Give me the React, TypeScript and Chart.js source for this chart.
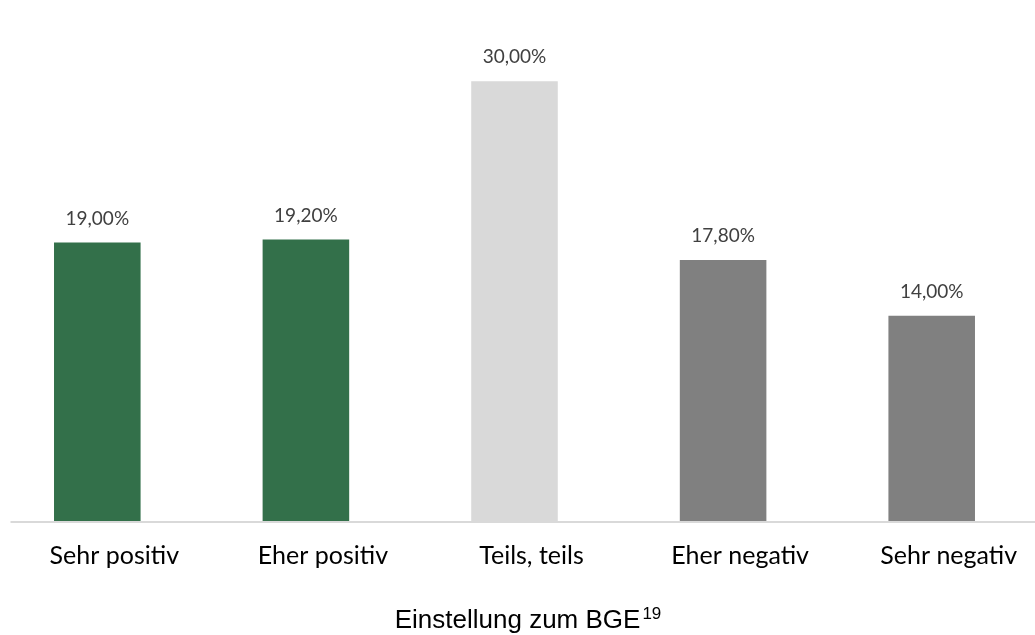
import React, { useEffect, useRef } from "react";
import { Chart, registerables } from "chart.js";

Chart.register(...registerables);

const categories = ["Sehr positiv", "Eher positiv", "Teils, teils", "Eher negativ", "Sehr negativ"];
const values = [19.0, 19.2, 30.0, 17.8, 14.0];
const barColors = ["#33704a", "#33704a", "#d9d9d9", "#808080", "#808080"];
const axisTitle = "Einstellung zum BGE";
const axisTitleNote = "19";

const valueLabelPlugin = {
  id: "valueLabels",
  afterDatasetsDraw(chart: any) {
    const ctx = chart.ctx;
    const meta = chart.getDatasetMeta(0);
    ctx.save();
    ctx.font = "19px Lato, 'Open Sans', sans-serif";
    ctx.fillStyle = "#404040";
    ctx.textAlign = "center";
    ctx.textBaseline = "middle";
    meta.data.forEach((bar: any, i: number) => {
      const v = values[i];
      const txt = v.toFixed(2).replace(".", ",") + "%";
      ctx.fillText(txt, bar.x, bar.y - 24);
    });
    ctx.restore();
  },
};

const baselinePlugin = {
  id: "baseline",
  afterDatasetsDraw(chart: any) {
    const ctx = chart.ctx;
    const y = chart.scales.y.getPixelForValue(0);
    ctx.save();
    ctx.strokeStyle = "#d9d9d9";
    ctx.lineWidth = 2;
    ctx.beginPath();
    ctx.moveTo(17.5, y + 1);
    ctx.lineTo(chart.width, y + 1);
    ctx.stroke();
    ctx.restore();
  },
};

const axisTitlePlugin = {
  id: "axisTitle",
  afterDraw(chart: any) {
    const ctx = chart.ctx;
    const mainFont = "26px 'Liberation Sans', Arial, sans-serif";
    const supFont = "17px 'Liberation Sans', Arial, sans-serif";
    ctx.save();
    ctx.fillStyle = "#000000";
    ctx.textBaseline = "alphabetic";
    ctx.textAlign = "left";
    ctx.font = mainFont;
    const w1 = ctx.measureText(axisTitle).width;
    ctx.font = supFont;
    const w2 = ctx.measureText(axisTitleNote).width;
    const total = w1 + 2 + w2;
    const cx = 527.5 + 7.5;
    const x0 = cx - total / 2;
    const baseY = 628;
    ctx.font = mainFont;
    ctx.fillText(axisTitle, x0, baseY);
    ctx.font = supFont;
    ctx.fillText(axisTitleNote, x0 + w1 + 2, baseY - 9);
    ctx.restore();
  },
};

export default function App() {
  const ref = useRef<HTMLCanvasElement | null>(null);
  useEffect(() => {
    if (!ref.current) return;
    const chart = new Chart(ref.current, {
      type: "bar",
      data: {
        labels: categories,
        datasets: [
          {
            data: values,
            backgroundColor: barColors,
            barPercentage: 0.415,
            categoryPercentage: 1,
          },
        ],
      },
      options: {
        animation: false,
        responsive: false,
        maintainAspectRatio: false,
        layout: { padding: { top: 8, left: 0, right: 0, bottom: 0 } },
        plugins: { legend: { display: false }, tooltip: { enabled: false } },
        scales: {
          x: {
            grid: { display: false, drawTicks: false },
            border: { display: false },
            ticks: {
              color: "#000000",
              padding: 20,
              labelOffset: 17,
              font: { family: "Lato, 'Open Sans', sans-serif", size: 25 },
              maxRotation: 0,
              autoSkip: false,
            },
            afterFit: (s: any) => {
              s.height = 114;
            },
          },
          y: {
            display: false,
            min: 0,
            max: 35,
          },
        },
      },
      plugins: [valueLabelPlugin, baselinePlugin, axisTitlePlugin],
    });
    return () => chart.destroy();
  }, []);
  return (
    <div style={{ position: "absolute", left: -7.5, top: 0, width: 1043, height: 635 }}>
      <canvas ref={ref} width={1043} height={635} style={{ display: "block" }} />
    </div>
  );
}
